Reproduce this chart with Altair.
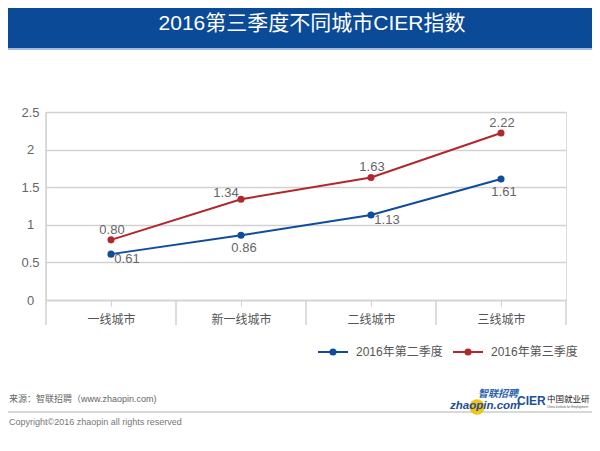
import altair as alt
import pandas as pd

cities = ["一线城市", "新一线城市", "二线城市", "三线城市"]
series_names = ["2016年第二季度", "2016年第三季度"]
q2_values = [0.61, 0.86, 1.13, 1.61]
q3_values = [0.80, 1.34, 1.63, 2.22]
y_ticks = [0, 0.5, 1, 1.5, 2, 2.5]
title_text = "2016第三季度不同城市CIER指数"
source_text = "来源：智联招聘（www.zhaopin.com)"
copyright_text = "Copyright©2016 zhaopin all rights reserved"

BLUE = "#0f4c9c"
RED = "#b2272d"
FONT = "Liberation Sans, Arial, Noto Sans CJK SC"
GRID = "#d2d2d2"

rows = []
for s, vals in zip(series_names, [q2_values, q3_values]):
    for c, v in zip(cities, vals):
        rows.append({"city": c, "series": s, "value": v})
df = pd.DataFrame(rows)

x_enc = alt.X("city:N", sort=cities, scale=alt.Scale(type="point", padding=0.5),
              axis=alt.Axis(title=None, labelAngle=0, domain=True, domainColor=GRID, domainWidth=1.5,
                            ticks=True, tickColor=GRID, tickSize=6, grid=False, labelFontSize=12,
                            labelColor="#555555", labelPadding=8, labelFont=FONT))
y_enc = alt.Y("value:Q", scale=alt.Scale(domain=[0, 2.5], nice=False),
              axis=alt.Axis(title=None, values=y_ticks, format="~g", domain=False, ticks=False,
                            grid=True, gridColor=GRID, gridWidth=1.5, labelAlign="center",
                            labelPadding=16, labelFontSize=13, labelColor="#666666", labelFont=FONT))
color_enc = alt.Color("series:N", scale=alt.Scale(domain=series_names, range=[BLUE, RED]), legend=None)

base = alt.Chart(df).transform_calculate(label="format(datum.value, '.2f')")
lines = base.mark_line(strokeWidth=2).encode(x=x_enc, y=y_enc, color=color_enc)
points = base.mark_point(filled=True, size=50, opacity=1).encode(x=x_enc, y=y_enc, color=color_enc)


def labels(expr, dx, dy):
    return base.transform_filter(expr).mark_text(
        fontSize=13, color="#666666", font=FONT, dx=dx, dy=dy, baseline="middle", align="center"
    ).encode(x=x_enc, y=y_enc, text="label:N")


q2 = "datum.series == '2016年第二季度'"
q3 = "datum.series == '2016年第三季度'"
lab_above = labels(q3 + " && datum.city != '新一线城市'", 1, -10)
lab_left = labels(q3 + " && datum.city == '新一线城市'", -15, -6)
lab_below = labels(q2 + " && (datum.city == '新一线城市' || datum.city == '三线城市')", 3, 13)
lab_right = labels(q2 + " && (datum.city == '一线城市' || datum.city == '二线城市')", 16, 5)

dummy = pd.DataFrame({"d": [0]})


def deco():
    return alt.Chart(dummy)


L, R = -38, 546  # full-width extents in plot coordinates

layers = []
# title bar
layers.append(deco().mark_rect(color="#0b4a97").encode(
    x=alt.value(L), x2=alt.value(R), y=alt.value(-104), y2=alt.value(-64)))
layers.append(deco().mark_rule(color="#9fbde2", strokeWidth=2).encode(
    x=alt.value(L), x2=alt.value(R), y=alt.value(-63)))
layers.append(deco().mark_text(text=title_text, color="white", fontSize=21, font=FONT,
                               align="center", baseline="middle").encode(
    x=alt.value(266), y=alt.value(-88)))

# axis frame lines
layers.append(deco().mark_rule(color=GRID, strokeWidth=1.5).encode(
    x=alt.value(0), y=alt.value(0), y2=alt.value(213)))
for xv in [130, 260, 390, 520]:
    layers.append(deco().mark_rule(color=GRID, strokeWidth=1.5).encode(
        x=alt.value(xv), y=alt.value(188), y2=alt.value(213)))

# legend
for col, x0, name in [(BLUE, 272, series_names[0]), (RED, 407, series_names[1])]:
    layers.append(deco().mark_rule(color=col, strokeWidth=2).encode(
        x=alt.value(x0), x2=alt.value(x0 + 30), y=alt.value(240)))
    layers.append(deco().mark_point(filled=True, size=50, opacity=1, color=col).encode(
        x=alt.value(x0 + 15), y=alt.value(240)))
    layers.append(deco().mark_text(text=name, fontSize=12, color="#555555", font=FONT,
                                   align="left", baseline="middle").encode(
        x=alt.value(x0 + 38), y=alt.value(240)))

# footer
layers.append(deco().mark_rule(color="#cccccc", strokeWidth=1.5).encode(
    x=alt.value(L), x2=alt.value(R), y=alt.value(300)))
layers.append(deco().mark_text(text=source_text, fontSize=9, color="#666666", font=FONT,
                               align="left", baseline="middle").encode(
    x=alt.value(L + 1), y=alt.value(287)))
layers.append(deco().mark_text(text=copyright_text, fontSize=9, color="#777777", font=FONT,
                               align="left", baseline="middle").encode(
    x=alt.value(L + 1), y=alt.value(310)))

# logos
layers.append(deco().mark_point(filled=True, size=240, opacity=1, color="#f3c316").encode(
    x=alt.value(431), y=alt.value(295)))
layers.append(deco().mark_text(text="zhaopin.com", fontSize=11.5, fontWeight="bold", fontStyle="italic",
                               color="#1d4e9c", font=FONT, align="left", baseline="middle").encode(
    x=alt.value(404), y=alt.value(294)))
layers.append(deco().mark_text(text="智联招聘", fontSize=10, fontWeight="bold", fontStyle="italic",
                               color="#2a62b0", font=FONT, align="left", baseline="middle").encode(
    x=alt.value(432), y=alt.value(282)))
layers.append(deco().mark_text(text="CIER", fontSize=12, fontWeight="bold",
                               color="#1d4e9c", font=FONT, align="left", baseline="middle").encode(
    x=alt.value(471), y=alt.value(289)))
layers.append(deco().mark_text(text="中国就业研", fontSize=8.5, color="#222222", font=FONT,
                               align="left", baseline="middle").encode(
    x=alt.value(501), y=alt.value(287)))
layers.append(deco().mark_text(text="China Institute for Employment", fontSize=3, 
                               color="#555555", font=FONT, align="left", baseline="middle").encode(
    x=alt.value(501), y=alt.value(295)))

chart = alt.layer(lines, points, lab_above, lab_left, lab_below, lab_right, *layers).properties(
    width=520, height=188,
    padding={"left": 38, "top": 104, "right": 26, "bottom": 143},
    autosize=alt.AutoSizeParams(type="none"),
).configure_view(stroke=None).configure(background="white")

chart.save("out.html", embed_options={"renderer": "svg", "actions": False})
